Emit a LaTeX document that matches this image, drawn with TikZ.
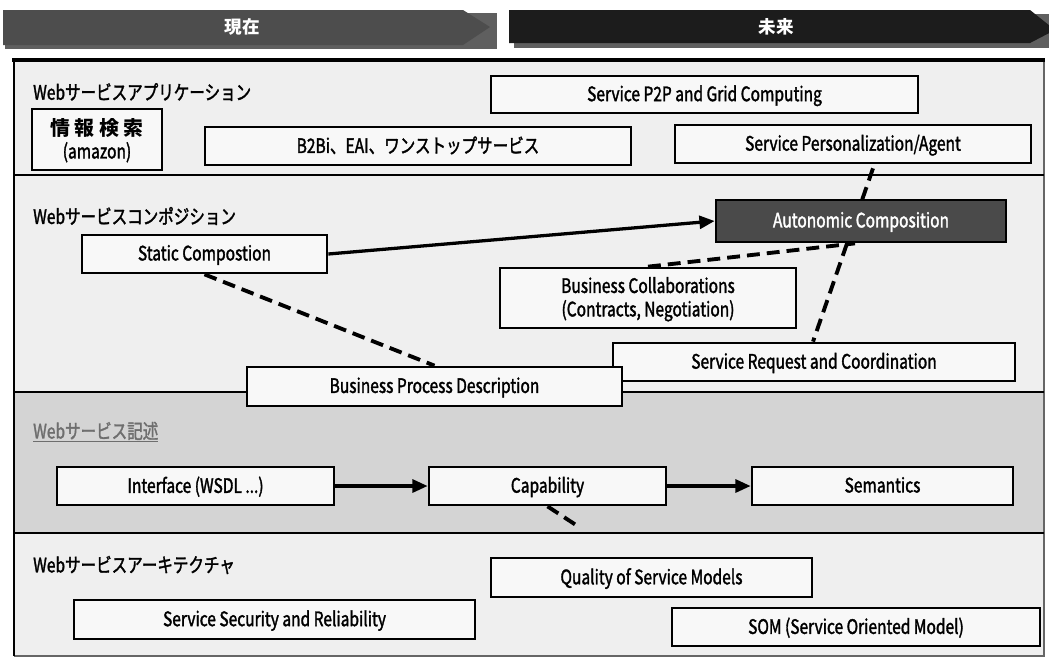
\documentclass[tikz,border=0pt]{standalone}
\usepackage{fontspec}
\setmainfont{Noto Sans CJK JP}[FakeStretch=0.78, FakeBold=1.6]
\newfontfamily\bandfont{Noto Sans CJK JP}
\usetikzlibrary{positioning, calc, arrows.meta}
\definecolor{bandgray}{RGB}{77, 77, 77}
\definecolor{bandshade}{RGB}{95, 95, 95}
\definecolor{bandblack}{RGB}{28, 28, 28}
\definecolor{layerlight}{RGB}{239, 239, 239}
\definecolor{layerdark}{RGB}{212, 212, 212}
\definecolor{boxwhite}{RGB}{248, 248, 248}
\definecolor{autogray}{RGB}{74, 74, 74}
\definecolor{labelgray}{RGB}{110, 110, 110}
\tikzset{
    svcbox/.style={
        draw=black, line width=2.3pt, fill=boxwhite, inner sep=0pt,
        align=center, font=\fontsize{17}{20}\selectfont,
        text depth=0.22em
    },
    layerlabel/.style={
        anchor=west, inner sep=0pt, font=\fontsize{17}{20}\selectfont
    },
    bandtext/.style={
        text=white, font=\bandfont\bfseries\fontsize{15}{18}\selectfont
    },
    sepline/.style={
        draw=black, line width=2.5pt
    },
    flowarrow/.style={
        -{Triangle[length=13pt, width=11pt]}, line width=2.8pt, black
    },
    relline/.style={
        line width=3.3pt, dash pattern=on 11pt off 6pt, black
    }
}

\begin{document}
\begin{tikzpicture}[x=0.03cm, y=-0.03cm]
    \useasboundingbox (0,0) rectangle (1049,658);

    % ======================================
    % HEADER BANDS
    % ======================================
    \fill[bandshade] (5,13) rectangle (497,49);
    \fill[bandgray] (3,10) -- (463,10) -- (490,27) -- (463,45) -- (3,45) -- cycle;
    \node[bandtext] (now) at (242,27) {現在};

    \fill[bandshade] (514,14) rectangle (1049,48);
    \fill[bandblack] (509,10) -- (1030,10) -- (1055,30) -- (1030,43) -- (509,43) -- cycle;
    \node[bandtext] (future) at (776,27) {未来};

    % ======================================
    % LAYERS
    % ======================================
    \fill[layerlight] (14,60) rectangle (1044,175);
    \fill[layerlight] (14,175) rectangle (1044,392);
    \fill[layerdark] (14,392) rectangle (1044,533);
    \fill[layerlight] (14,533) rectangle (1044,656);

    \draw[black!60, line width=1.2pt] (1044,60) -- (1044,656) -- (14,656);
    \draw[sepline] (14,656) -- (14,60);
    \draw[sepline, line width=3.4pt] (12,60) -- (1045,60);
    \draw[sepline] (14,175) -- (1044,175);
    \draw[sepline] (14,392) -- (1044,392);
    \draw[sepline] (14,533) -- (1044,533);

    \node[layerlabel] (applabel) at (33,92) {Webサービスアプリケーション};
    \node[layerlabel] (complabel) at (33,216) {Webサービスコンポジション};
    \node[layerlabel, text=labelgray] (desclabel) at (33,432) {\underline{Webサービス記述}};
    \node[layerlabel] (archlabel) at (33,565) {Webサービスアーキテクチャ};

    % ======================================
    % APPLICATIONS
    % ======================================
    \node[svcbox, minimum width=3.9cm, minimum height=1.83cm] (search) at (97,139.5)
        {{\bandfont\bfseries 情 報 検 索}\\(amazon)};
    \node[svcbox, minimum width=12.78cm, minimum height=1.14cm] (b2b) at (418,146)
        {B2Bi、EAI、ワンストップサービス};
    \node[svcbox, minimum width=12.81cm, minimum height=1.11cm] (p2p) at (704.5,94.5)
        {Service P2P and Grid Computing};
    \node[svcbox, minimum width=10.68cm, minimum height=1.14cm] (pers) at (853,144)
        {Service Personalization/Agent};

    % ======================================
    % COMPOSITION
    % ======================================
    \node[svcbox, minimum width=7.35cm, minimum height=1.14cm] (static) at (204.5,254)
        {Static Compostion};
    \node[svcbox, minimum width=8.88cm, minimum height=1.8cm] (collab) at (648,298)
        {Business Collaborations\\(Contracts, Negotiation)};
    \node[svcbox, minimum width=12.06cm, minimum height=1.14cm] (request) at (814,362)
        {Service Request and Coordination};

    % runs behind the autonomic box
    \draw[relline] ($(pers.south)+(20,4)$) -- ($(request.north)+(-1,0)$);

    \node[svcbox, fill=autogray, text=white, minimum width=8.7cm, minimum height=1.26cm]
        (auto) at (861,221) {Autonomic Composition};
    \node[svcbox, minimum width=11.25cm, minimum height=1.17cm] (bpd) at (434.5,386.5)
        {Business Process Description};

    \draw[flowarrow] (static.east) -- (auto.west);
    \draw[relline] (static.south) -- (bpd.north);
    \draw[relline] (collab.north) -- ($(auto.south)+(-6,0)$);

    % ======================================
    % DESCRIPTION
    % ======================================
    \node[svcbox, minimum width=8.31cm, minimum height=1.14cm] (iface) at (195.5,486)
        {Interface (WSDL ...)};
    \node[svcbox, minimum width=7.11cm, minimum height=1.14cm] (cap) at (547.5,486)
        {Capability};
    \node[svcbox, minimum width=7.83cm, minimum height=1.14cm] (sem) at (882.5,486)
        {Semantics};
    \coordinate (capend) at (576,525);

    \draw[flowarrow] (iface.east) -- (cap.west);
    \draw[flowarrow] (cap.east) -- (sem.west);
    \draw[relline] (cap.south) -- (capend);

    % ======================================
    % ARCHITECTURE
    % ======================================
    \node[svcbox, minimum width=9.63cm, minimum height=1.17cm] (qos) at (651.5,577.5)
        {Quality of Service Models};
    \node[svcbox, minimum width=12.03cm, minimum height=1.17cm] (secu) at (274.5,619.5)
        {Service Security and Reliability};
    \node[svcbox, minimum width=11.04cm, minimum height=1.14cm] (som) at (856,627)
        {SOM (Service Oriented Model)};

\end{tikzpicture}
\end{document}
